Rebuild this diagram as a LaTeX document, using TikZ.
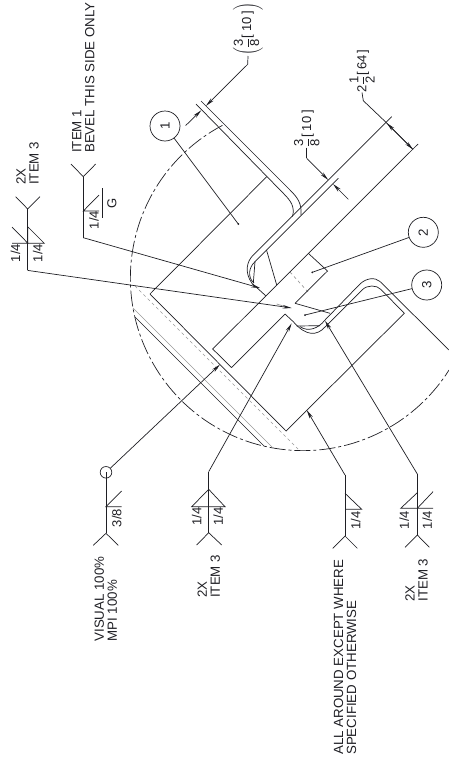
\documentclass[tikz,border=0pt]{standalone}
\usepackage{fontspec}
\setmainfont{Liberation Sans}
\usetikzlibrary{arrows.meta}
\definecolor{linedark}{rgb}{0.12,0.12,0.14}
\definecolor{hiddengray}{rgb}{0.6,0.6,0.6}
\newcommand{\fr}[2]{$\displaystyle\frac{\mbox{#1}}{\mbox{#2}}$}
\tikzset{
	part/.style={draw=linedark, line width=0.7pt},
	leader/.style={part, -{Stealth[length=9pt,width=3.6pt]}},
	hidden/.style={draw=hiddengray, line width=0.7pt},
	cutline/.style={part, dash pattern=on 16pt off 3pt on 3pt off 3pt},
	balloon/.style={draw=linedark, line width=0.7pt, circle, minimum size=30pt, inner sep=0pt, rotate=90, text=linedark, font=\fontsize{13.3}{13}\selectfont},
	note/.style={rotate=90, anchor=west, align=left, inner sep=0pt, text=linedark, font=\fontsize{13.3}{13}\selectfont},
	size/.style={rotate=90, anchor=center, inner sep=0pt, text=linedark, font=\fontsize{13}{13}\selectfont},
}
\begin{document}
\begin{tikzpicture}[x=1pt,y=-1pt]
			\useasboundingbox (0,0) rectangle (449,763);
			\coordinate (C) at (303,278);
			%Detail circle
			\draw[cutline] (C) ++(-117.8:172.6) arc[start angle=-117.8,end angle=-327.8,radius=172.6];
			%Hidden lines
			\draw[hidden, dashed] (135,286) -- (298,449);
			\draw[hidden] (133,308) -- (273,448);
			\draw[hidden, dashed] (290,272) -- (308,292);
			\draw[hidden] (276.7,304) -- (288,307.5);
			\draw[part] (135,317) -- (264,446);
			%Block
			\draw[part] (266.7,176.7) -- (150,294) -- (286,431) -- (404.3,313.3) -- (381,289.5) .. controls (376.6,284.9) and (367.4,284.6) .. (362,290) -- (325,327) .. controls (317,336) and (306,336.5) .. (293.3,321.7) -- (285,314);
			\draw[part] (196,104) -- (284,194) .. controls (291,201) and (295,207) .. (292.5,216.5);
			\draw[part] (201,101) -- (290,190) .. controls (297,197) and (302,203) .. (301,215);
			%Plate
			\draw[part] (391.7,116.7) -- (253.3,255) .. controls (247,261) and (244,272) .. (252,283.3) -- (265.7,295.7);
			\draw[part] (338.3,178.3) -- (255,261.7) .. controls (249,267) and (247,277) .. (254,283);
			\draw[part] (255,261.7) -- (253.3,283);
			\draw[part] (266.5,250) -- (276.7,285);
			\draw[part] (418,144) -- (212.7,349) -- (231.5,367.5) -- (285,314);
			\draw[part] (295,303.3) -- (327.5,271) -- (308.3,253.3);
			\draw[part] (295,303.3) -- (330,313.3);
			%Bent part
			\draw[part] (449,350) -- (380,281.5) .. controls (375,277) and (366.2,278) .. (360,284) -- (325,320) .. controls (318,329) and (308,332) .. (300,326.7);
			\draw[part] (296.7,326) -- (320,325.7);
			%Balloons
			\node[balloon] (one) at (165,126) {1};
			\node[balloon] (two) at (423.3,232.3) {2};
			\node[balloon] (three) at (426.7,285) {3};
			\fill[linedark] (238.3,224) coordinate (dot1) circle (1pt);
			\fill[linedark] (312.3,272.3) coordinate (dot2) circle (1pt);
			\fill[linedark] (305,315) coordinate (dot3) circle (1pt);
			\draw[part] (one) -- (dot1);
			\draw[part] (two) -- (dot2);
			\draw[part] (three) -- (dot3);
			%Top size
			\node[size, anchor=west] (sizeA) at (248,56) {$\left(\mbox{\fr{3}{8}[\kern3pt10\kern3pt]}\right)$};
			\coordinate (A1) at (247.7,64.3);
			\coordinate (A-tip) at (205.9,105.9);
			\coordinate (A-tail) at (185.7,125.5);
			\coordinate (A-end) at (201.3,110.3);
			\draw[part] (sizeA.west) -- (A1);
			\draw[leader] (A1) -- (A-tip);
			\draw[leader] (A-tail) -- (A-end);
			%Plate thickness
			\node[size, anchor=west] (sizeB) at (306.7,147.5) {\fr{3}{8}[\kern3pt10\kern3pt]};
			\coordinate (B1) at (306.7,158.3);
			\coordinate (B-tip) at (328.3,180);
			\coordinate (B-tail) at (348.3,199.3);
			\coordinate (B-end) at (333,184);
			\draw[part] (sizeB.west) -- (B1);
			\draw[leader] (B1) -- (B-tip);
			\draw[leader] (B-tail) -- (B-end);
			%Plate width
			\node[size, anchor=west] (sizeC) at (362,92.5) {2\fr{1}{2}[\kern2pt64\kern2pt]};
			\coordinate (D1) at (363.3,100.7);
			\coordinate (D-near) at (386.7,123);
			\coordinate (D-far) at (413,149.5);
			\draw[part] (sizeC.west) -- (D1) -- (D-near);
			\draw[leader] (D-far) -- (D-near);
			\draw[leader] (D-near) -- (D-far);
			%Symbol top left
			\node[note] (topnote) at (27.5,185) {2X\\ITEM 3};
			\coordinate (E1) at (27.7,209);
			\coordinate (E2) at (27.7,270.4);
			\coordinate (E-tip) at (291.7,308);
			\draw[part] (15.7,196.7) -- (E1) -- (40,196.7);
			\draw[part] (E1) -- (E2);
			\draw[leader] (E2) -- (E-tip);
			\draw[part] (12,227) -- (27.7,243) -- (27.7,226.7) -- (44.3,243.3) -- (12,243.3);
			\node[size] (E-left) at (15.5,253) {1/4};
			\node[size] (E-right) at (37.7,253) {1/4};
			%Symbol item 1
			\node[note] (itemnote) at (83.3,153) {ITEM 1\\BEVEL THIS SIDE ONLY};
			\coordinate (F1) at (83.3,176.7);
			\coordinate (F2) at (83.3,237.7);
			\coordinate (F-tip) at (260,288);
			\draw[part] (71,164) -- (F1) -- (95.7,164);
			\draw[part] (F1) -- (F2);
			\draw[leader] (F2) -- (F-tip);
			\draw[part] (99,195) -- (83.3,211) -- (99,211);
			\draw[part] (102,188) -- (102,218);
			\node[size] (F-size) at (94,220) {1/4};
			\node[size] (F-finish) at (112,203) {G};
			%Symbol visual
			\node[draw=linedark, line width=0.7pt, circle, minimum size=11.6pt, inner sep=0pt] (around) at (106,472.3) {};
			\node[note] (visnote) at (105.8,641.7) {VISUAL 100\%\\MPI 100\%};
			\coordinate (G1) at (106,533.3);
			\coordinate (G-tip) at (220,364.5);
			\draw[part] (93.3,545.3) -- (G1) -- (118.3,545.3);
			\draw[part] (around.center) -- (G1);
			\draw[leader] (around) -- (G-tip);
			\draw[part] (121.7,491) -- (106,506.7) -- (121.7,506.7);
			\node[size] (G-size) at (116.7,518) {3/8};
			%Symbol second
			\node[note] (secnote) at (208.8,598) {2X\\ITEM 3};
			\coordinate (H1) at (208.7,532.7);
			\coordinate (H2) at (208.7,471.7);
			\coordinate (H-tip) at (291.7,323.3);
			\draw[part] (196.7,545) -- (H1) -- (221.7,545);
			\draw[part] (H1) -- (H2);
			\draw[leader] (H2) -- (H-tip);
			\draw[part] (191.7,506.7) -- (208.7,489.3) -- (225,506.7) -- cycle;
			\node[size] (H-left) at (196.7,516.7) {1/4};
			\node[size] (H-right) at (218.3,516.7) {1/4};
			%Symbol all around
			\node[note] (allnote) at (345,755) {ALL AROUND EXCEPT WHERE\\SPECIFIED OTHERWISE};
			\coordinate (K1) at (345,536);
			\coordinate (K2) at (345,475);
			\coordinate (K-tip) at (306.7,410);
			\draw[part] (332.7,548.3) -- (K1) -- (357.3,548.3);
			\draw[part] (K1) -- (K2);
			\draw[leader] (K2) -- (K-tip);
			\draw[part] (345,493.3) -- (361.7,509.3) -- (345,509.3);
			\node[size] (K-size) at (355.7,520.7) {1/4};
			%Symbol last
			\node[note] (lastnote) at (416.5,601.7) {2X\\ITEM 3};
			\coordinate (L1) at (417.3,535);
			\coordinate (L2) at (417.3,474);
			\coordinate (L-tip) at (325,320.7);
			\draw[part] (405,547.3) -- (L1) -- (429.3,547.3);
			\draw[part] (L1) -- (L2);
			\draw[leader] (L2) -- (L-tip);
			\draw[part] (417.3,492.7) -- (400.7,508.3) -- (433,508.3);
			\draw[part] (417.3,508.3) -- (433,491.7);
			\node[size] (L-left) at (404.3,520) {1/4};
			\node[size] (L-right) at (427.3,520) {1/4};
		\end{tikzpicture}
\end{document}
